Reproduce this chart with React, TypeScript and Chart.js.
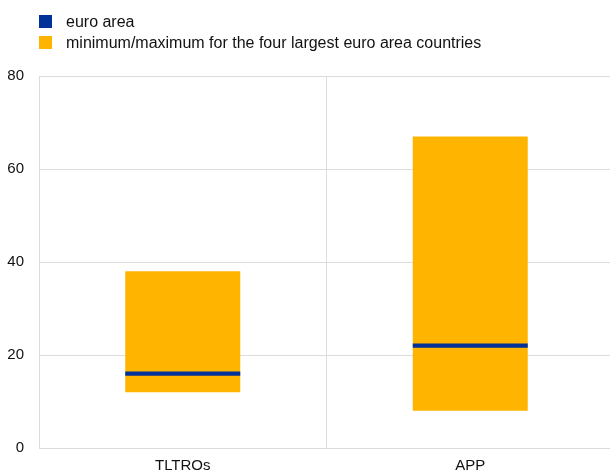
import React, { useEffect, useRef } from "react";
import { Chart, registerables } from "chart.js";

Chart.register(...registerables);

// ---- data ----
const categories = ["TLTROs", "APP"];
const euroArea = [16, 22];
const minimums = [12, 8];
const maximums = [38, 67];
const yTicks = [0, 20, 40, 60, 80];
const seriesLabels = [
  "euro area",
  "minimum/maximum for the four largest euro area countries",
];
const seriesColors = ["#003299", "#FFB400"];

// ---- style ----
const BAR_FRACTION = 0.4;
const GRID = "#dcdcdc";
const FONT = '"Liberation Sans", Arial, sans-serif';

export default function App() {
  const canvasRef = useRef<HTMLCanvasElement | null>(null);

  useEffect(() => {
    if (!canvasRef.current) return;
    const halfBar = (ctx: any) => {
      const a = ctx.chart.chartArea;
      if (!a) return 0;
      return ((a.right - a.left) / categories.length) * BAR_FRACTION / 2;
    };
    const chart = new Chart(canvasRef.current, {
      type: "bar",
      data: {
        labels: categories,
        datasets: [
          {
            type: "line",
            label: seriesLabels[0],
            data: euroArea,
            showLine: false,
            pointStyle: "line",
            pointRadius: halfBar,
            pointHoverRadius: halfBar,
            pointBorderWidth: 4.3,
            pointHoverBorderWidth: 4.3,
            pointBorderColor: seriesColors[0],
            pointBackgroundColor: seriesColors[0],
            borderColor: seriesColors[0],
            backgroundColor: seriesColors[0],
          } as any,
          {
            type: "bar",
            label: seriesLabels[1],
            data: categories.map((_, i) => [minimums[i], maximums[i]]),
            backgroundColor: seriesColors[1],
            borderWidth: 0,
            barPercentage: BAR_FRACTION,
            categoryPercentage: 1,
          } as any,
        ],
      },
      options: {
        animation: false,
        responsive: true,
        maintainAspectRatio: false,
        events: [],
        layout: { padding: { top: 76, right: 1, bottom: 0, left: 0 } },
        plugins: {
          legend: { display: false },
          tooltip: { enabled: false },
        },
        scales: {
          x: {
            offset: true,
            afterFit: (s: any) => {
              s.height = 25;
            },
            grid: { color: GRID, offset: true, drawTicks: false, lineWidth: 1 },
            border: { color: GRID },
            ticks: {
              color: "#111",
              padding: 8.5,
              font: { family: FONT, size: 15 },
            },
          },
          y: {
            min: 0,
            max: 80,
            afterBuildTicks: (s: any) => {
              s.ticks = yTicks.map((v) => ({ value: v }));
            },
            afterFit: (s: any) => {
              s.width = 39;
            },
            grid: { color: GRID, drawTicks: false, lineWidth: 1 },
            border: { color: GRID },
            ticks: {
              color: "#111",
              padding: 15,
              font: { family: FONT, size: 15 },
            },
          },
        },
      },
    });
    return () => chart.destroy();
  }, []);

  return (
    <div
      style={{
        position: "absolute",
        left: 0,
        top: 0,
        width: 610,
        height: 473,
        overflow: "hidden",
        background: "#fff",
      }}
    >
      <div style={{ position: "absolute", left: 0, top: 0, width: 615, height: 473 }}>
        <canvas ref={canvasRef} />
      </div>
      <div
        style={{
          position: "absolute",
          left: 39,
          top: 11,
          fontFamily: FONT,
          fontSize: 16,
          color: "#111",
        }}
      >
        {seriesLabels.map((label, i) => (
          <div
            key={label}
            style={{ display: "flex", alignItems: "center", height: 21, whiteSpace: "nowrap" }}
          >
            <span
              style={{
                display: "inline-block",
                width: 13,
                height: 13,
                background: seriesColors[i],
                marginRight: 14,
              }}
            />
            <span>{label}</span>
          </div>
        ))}
      </div>
    </div>
  );
}
